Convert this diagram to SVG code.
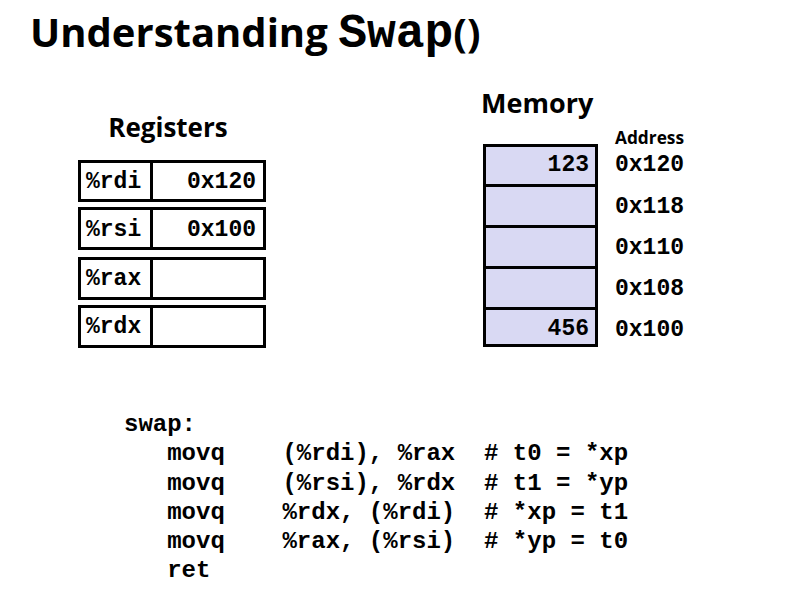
<svg xmlns="http://www.w3.org/2000/svg" width="793" height="598" viewBox="0 0 793 598">
<style>
.sans{font-family:"Open Sans","Liberation Sans",sans-serif;font-weight:bold;fill:#000}
.mono{font-family:"Liberation Mono","Courier New",monospace;font-weight:bold;fill:#000}
.reg{font-size:23px}
.box{fill:#fff;stroke:#000;stroke-width:3}
.mem{fill:#d9d9f3;stroke:#000;stroke-width:3}
.code{font-size:24px;white-space:pre}
</style>
<rect width="793" height="598" fill="#fff"/>
<g id="title">
<text x="30" y="47" class="sans" font-size="40">Understanding <tspan class="mono" font-size="48">Swap</tspan>()</text>
</g>
<g id="registers-label"><text x="168" y="137" class="sans" font-size="26" text-anchor="middle">Registers</text></g>
<g id="reg-rdi">
<rect x="79.5" y="161.5" width="185" height="39" class="box"/>
<line x1="151.5" y1="161.5" x2="151.5" y2="200.5" stroke="#000" stroke-width="3"/>
<text x="86" y="188" class="mono reg">%rdi</text>
<text x="256" y="188" class="mono reg" text-anchor="end">0x120</text>
</g>
<g id="reg-rsi">
<rect x="79.5" y="208.5" width="185" height="40" class="box"/>
<line x1="151.5" y1="208.5" x2="151.5" y2="248.5" stroke="#000" stroke-width="3"/>
<text x="86" y="236" class="mono reg">%rsi</text>
<text x="256" y="236" class="mono reg" text-anchor="end">0x100</text>
</g>
<g id="reg-rax">
<rect x="79.5" y="258.5" width="185" height="40" class="box"/>
<line x1="151.5" y1="258.5" x2="151.5" y2="298.5" stroke="#000" stroke-width="3"/>
<text x="86" y="285" class="mono reg">%rax</text>
</g>
<g id="reg-rdx">
<rect x="79.5" y="306.5" width="185" height="40" class="box"/>
<line x1="151.5" y1="306.5" x2="151.5" y2="346.5" stroke="#000" stroke-width="3"/>
<text x="86" y="333" class="mono reg">%rdx</text>
</g>
<g id="memory-label"><text x="481" y="113" class="sans" font-size="27">Memory</text></g>
<g id="address-label"><text x="615" y="144" class="sans" font-size="17.3">Address</text></g>
<g id="mem-0x120">
<rect x="484.5" y="145.5" width="112" height="40" class="mem"/>
<text x="589" y="171" class="mono reg" text-anchor="end">123</text>
<text x="615" y="171" class="mono reg">0x120</text>
</g>
<g id="mem-0x118">
<rect x="484.5" y="185.5" width="112" height="41" class="mem"/>
<text x="615" y="213" class="mono reg">0x118</text>
</g>
<g id="mem-0x110">
<rect x="484.5" y="226.5" width="112" height="41" class="mem"/>
<text x="615" y="254" class="mono reg">0x110</text>
</g>
<g id="mem-0x108">
<rect x="484.5" y="267.5" width="112" height="41" class="mem"/>
<text x="615" y="295" class="mono reg">0x108</text>
</g>
<g id="mem-0x100">
<rect x="484.5" y="308.5" width="112" height="37" class="mem"/>
<text x="589" y="335" class="mono reg" text-anchor="end">456</text>
<text x="615" y="336" class="mono reg">0x100</text>
</g>
<g id="connectors"></g>
<g id="code">
<text x="124" y="431" class="mono code" xml:space="preserve">swap:</text>
<text x="124" y="460" class="mono code" xml:space="preserve">   movq    (%rdi), %rax  # t0 = *xp</text>
<text x="124" y="490" class="mono code" xml:space="preserve">   movq    (%rsi), %rdx  # t1 = *yp</text>
<text x="124" y="519" class="mono code" xml:space="preserve">   movq    %rdx, (%rdi)  # *xp = t1</text>
<text x="124" y="548" class="mono code" xml:space="preserve">   movq    %rax, (%rsi)  # *yp = t0</text>
<text x="124" y="577" class="mono code" xml:space="preserve">   ret</text>
</g>
</svg>
